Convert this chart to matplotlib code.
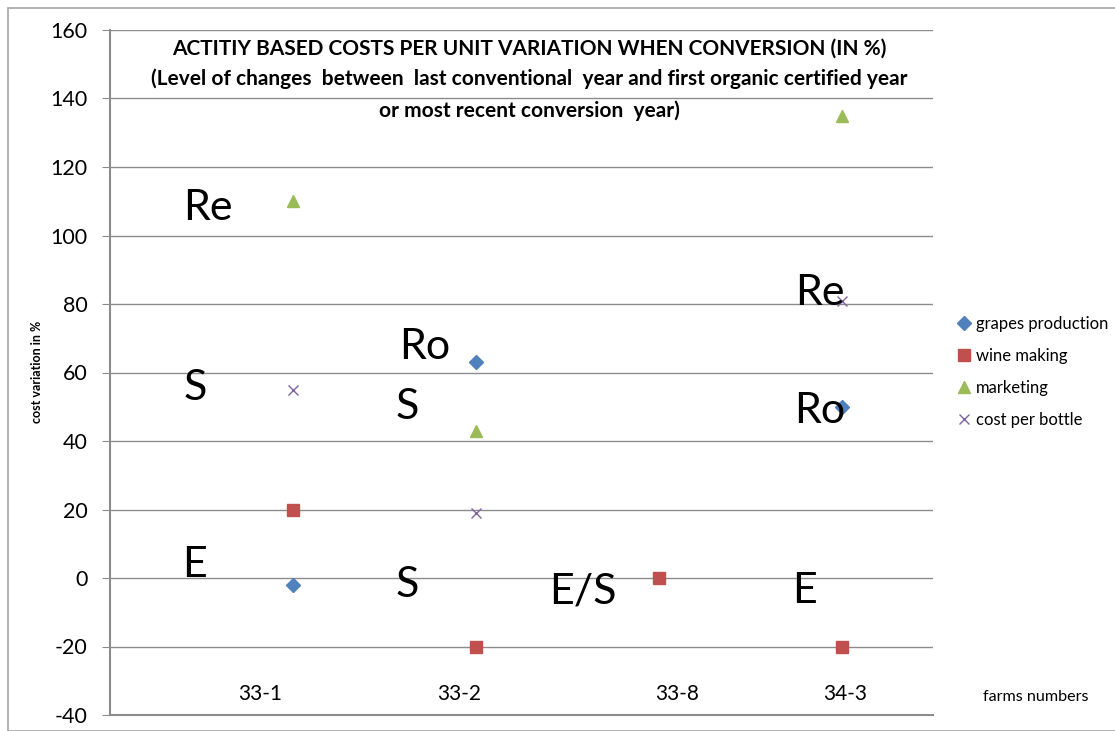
import matplotlib
matplotlib.use("Agg")
import matplotlib.pyplot as plt
from matplotlib.patches import Rectangle

plt.rcParams['font.family'] = ['Lato', 'DejaVu Sans']
plt.rcParams['axes.unicode_minus'] = False

farms = ["33-1", "33-2", "33-8", "34-3"]
grapes_production = [-2, 63, None, 50]
wine_making = [20, -20, 0, -20]
marketing = [110, 43, None, 135]
cost_per_bottle = [55, 19, None, 81]

series_names = ["grapes production", "wine making", "marketing", "cost per bottle"]
series_values = [grapes_production, wine_making, marketing, cost_per_bottle]
series_colors = ["#4F81BD", "#C0504D", "#9BBB59", "#8064A2"]
series_markers = ["D", "s", "^", "x"]
series_sizes = [7.5, 8.2, 8.5, 7]

# farm label text boxes (positions in category units, as placed in the source)
farm_label_x = [0.82, 1.91, 3.10, 4.02]

# stage annotations (text, x in category units, y value)
note_texts = ["Re", "S", "E", "Ro", "S", "S", "E/S", "Re", "Ro", "E"]
note_x = [0.535, 0.464, 0.464, 1.721, 1.628, 1.628, 2.585, 3.88, 3.88, 3.798]
note_y = [108, 55.5, 3.8, 67.4, 49.9, -2, -3.8, 83.2, 48.8, -3.8]

title_lines = ["ACTITIY BASED COSTS PER UNIT VARIATION WHEN CONVERSION (IN %)",
               "(Level of changes  between  last conventional  year and first organic certified year",
               "or most recent conversion  year)"]

W, H = 1115, 731
fig = plt.figure(figsize=(W / 100, H / 100), dpi=100)
fig.patches.append(Rectangle((8 / W, 0), 1, 1 - 8 / H, transform=fig.transFigure,
                             fill=False, edgecolor="#A6A6A6", linewidth=1.2))

ax = fig.add_axes([110 / W, 1 - 715 / H, (933 - 110) / W, (715 - 30) / H])
xs = list(range(1, len(farms) + 1))
for name, vals, c, m, s in zip(series_names, series_values, series_colors, series_markers, series_sizes):
    px = [x for x, v in zip(xs, vals) if v is not None]
    py = [v for v in vals if v is not None]
    if m == "x":
        ax.plot(px, py, linestyle="none", marker=m, color=c, markersize=s,
                markeredgewidth=1.0, label=name, zorder=3)
    else:
        ax.plot(px, py, linestyle="none", marker=m, color=c, markersize=s,
                markeredgecolor=c, label=name, zorder=3)

ax.set_xlim(0, 4.5)
ax.set_ylim(-40, 160)
ax.set_yticks(range(-40, 161, 20))
ax.set_xticks([])
ax.yaxis.grid(True, color="#8C8C8C", linewidth=1.0)
ax.set_axisbelow(True)
for sp in ["top", "right"]:
    ax.spines[sp].set_visible(False)
for sp in ["left", "bottom"]:
    ax.spines[sp].set_color("#8C8C8C")
    ax.spines[sp].set_linewidth(1.5)
ax.tick_params(axis="y", length=6, color="#8C8C8C", labelsize=15.5, pad=10)

for t, x, y in zip(note_texts, note_x, note_y):
    ax.text(x, y, t, fontsize=31, ha="center", va="center", color="black")

for x, f in zip(farm_label_x, farms):
    ax.text(x, -33.9, f, fontsize=15, ha="center", va="center")

ty = [154.6, 145.7, 136.4]
for line, y in zip(title_lines, ty):
    ax.text(2.295, y, line, fontsize=15, fontweight="bold", ha="center", va="center")

fig.text(1036 / W, 1 - 697 / H, "farms numbers", fontsize=11.6, ha="center", va="center")
fig.text(37 / W, 1 - 372 / H, "cost variation in %", fontsize=9, fontweight="bold",
         rotation=90, ha="center", va="center")

leg = ax.legend(loc="center left", bbox_to_anchor=(951 / W, 1 - 372 / H),
                bbox_transform=fig.transFigure, frameon=False, fontsize=12,
                handlelength=0.8, handletextpad=0.3, labelspacing=0.95, borderaxespad=0)

fig.savefig("out.png", dpi=100)
